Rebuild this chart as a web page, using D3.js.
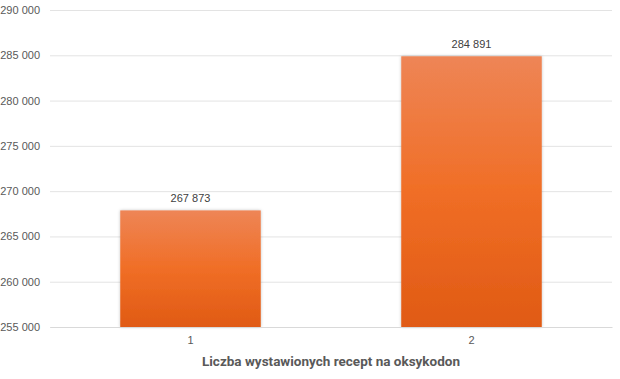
<!DOCTYPE html>
<html>
<head>
<meta charset="utf-8">
<script src="https://cdn.jsdelivr.net/npm/d3@7"></script>
<style>
  body { margin: 0; background: #fff; }
  text { font-family: "Liberation Sans", Arial, sans-serif; }
</style>
</head>
<body>
<div id="chart-area"></div>
<script>
// data
var categories = ["1", "2"];
var values = [267873, 284891];
var yTicks = [255000, 260000, 265000, 270000, 275000, 280000, 285000, 290000];
var axisTitle = "Liczba wystawionych recept na oksykodon";

var margin = { left: 50, right: 8, top: 10, bottom: 52 };
var width = 620 - margin.left - margin.right,
    height = 379 - margin.top - margin.bottom;

var fmt = d => d3.format(",")(d).replace(/,/g, " ");

var svg = d3.select("#chart-area")
            .append("svg")
            .attr("width", 620)
            .attr("height", 379);

// bar gradient
var defs = svg.append("defs");
var grad = defs.append("linearGradient")
               .attr("id", "barGrad")
               .attr("x1", 0).attr("y1", 0).attr("x2", 0).attr("y2", 1);
grad.append("stop").attr("offset", "0%").attr("stop-color", "#ee8556");
grad.append("stop").attr("offset", "50%").attr("stop-color", "#f06e26");
grad.append("stop").attr("offset", "100%").attr("stop-color", "#e05a14");

var shadow = defs.append("filter").attr("id", "shadow")
                 .attr("x", "-10%").attr("y", "-10%").attr("width", "120%").attr("height", "120%");
shadow.append("feDropShadow").attr("dx", 0).attr("dy", 0).attr("stdDeviation", 1.5)
      .attr("flood-color", "#000").attr("flood-opacity", 0.25);

var g = svg.append("g")
           .attr("transform", "translate(" + margin.left + "," + margin.top + ")");

// scales
var x = d3.scaleBand()
          .domain(categories)
          .range([0, width])
          .paddingInner(0.5)
          .paddingOuter(0.25);

var y = d3.scaleLinear()
          .domain([255000, 290000])
          .range([height, 0]);

// y axis with gridlines
var yAxis = d3.axisLeft(y)
              .tickValues(yTicks)
              .tickSize(-width)
              .tickPadding(10)
              .tickFormat(fmt);

var yAxisGroup = g.append("g").attr("class", "y axis").call(yAxis);
yAxisGroup.select(".domain").remove();
yAxisGroup.selectAll(".tick line").attr("stroke", "#e3e3e3").attr("stroke-width", 1);
yAxisGroup.selectAll(".tick text")
          .attr("fill", "#595959")
          .attr("font-size", "11px");

// bars
g.selectAll("rect.bar")
 .data(values)
 .enter()
 .append("rect")
 .attr("class", "bar")
 .attr("x", (d, i) => x(categories[i]))
 .attr("width", x.bandwidth())
 .attr("y", d => y(d))
 .attr("height", d => height - y(d))
 .attr("fill", "url(#barGrad)")
 .attr("filter", "url(#shadow)");

// value labels
g.selectAll("text.val")
 .data(values)
 .enter()
 .append("text")
 .attr("class", "val")
 .attr("x", (d, i) => x(categories[i]) + x.bandwidth() / 2)
 .attr("y", d => y(d) - 8)
 .attr("text-anchor", "middle")
 .attr("font-size", "11px")
 .attr("fill", "#404040")
 .text(fmt);

// x axis
var xAxis = d3.axisBottom(x).tickSize(0).tickPadding(9);
var xAxisGroup = g.append("g")
                  .attr("class", "x axis")
                  .attr("transform", "translate(0," + height + ")")
                  .call(xAxis);
xAxisGroup.select(".domain").attr("stroke", "#d9d9d9");
xAxisGroup.selectAll(".tick text").attr("fill", "#595959").attr("font-size", "11px");

// x axis title
g.append("text")
 .attr("x", width / 2)
 .attr("y", height + 39)
 .attr("text-anchor", "middle")
 .attr("font-size", "13.5px")
 .attr("font-weight", "bold")
 .attr("fill", "#595959")
 .style("font-family", "Roboto, 'Liberation Sans', sans-serif")
 .text(axisTitle);
</script>
</body>
</html>
